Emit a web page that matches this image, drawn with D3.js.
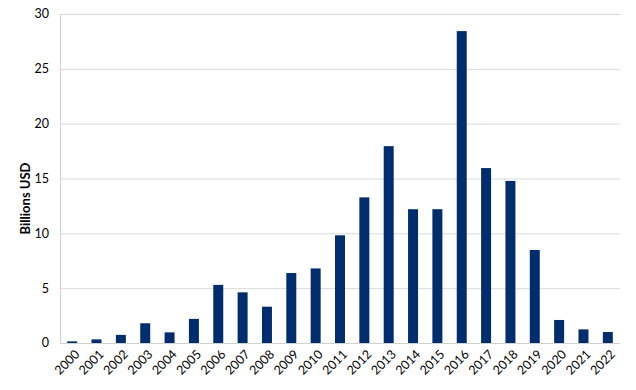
<!DOCTYPE html>
<html>
<head>
<meta charset="utf-8">
<script src="https://cdn.jsdelivr.net/npm/d3@7"></script>
<style>
  body { margin: 0; background: #fff; }
  svg text { font-family: Lato, "Open Sans", sans-serif; fill: #000; }
</style>
</head>
<body>
<div id="chart"></div>
<script>
// Yearly totals, billions USD
const years = ["2000","2001","2002","2003","2004","2005","2006","2007","2008","2009","2010",
  "2011","2012","2013","2014","2015","2016","2017","2018","2019","2020","2021","2022"];
const values = [0.15, 0.33, 0.74, 1.8, 0.97, 2.2, 5.3, 4.62, 3.31, 6.38, 6.8,
  9.82, 13.28, 17.95, 12.2, 12.2, 28.44, 15.95, 14.78, 8.48, 2.1, 1.24, 1.0];
const yTicks = [0, 5, 10, 15, 20, 25, 30];
const yLabel = "Billions USD";

const width = 636, height = 390;
const margin = {top: 14, right: 16, bottom: 47, left: 60};

const svg = d3.select("#chart").append("svg")
  .attr("width", width)
  .attr("height", height);

const x = d3.scaleBand()
  .domain(years)
  .range([margin.left, width - margin.right])
  .paddingInner(0.59)
  .paddingOuter(0.295);

const y = d3.scaleLinear()
  .domain([0, 30])
  .range([height - margin.bottom, margin.top]);

// gridlines
svg.append("g")
  .selectAll("line")
  .data(yTicks.filter(d => d > 0))
  .enter().append("line")
  .attr("x1", margin.left)
  .attr("x2", width - margin.right)
  .attr("y1", d => y(d) + 0.5)
  .attr("y2", d => y(d) + 0.5)
  .attr("stroke", "#d9d9d9")
  .attr("stroke-width", 1);

// bars
svg.append("g")
  .selectAll("rect")
  .data(values)
  .enter().append("rect")
  .attr("x", (d, i) => x(years[i]))
  .attr("width", x.bandwidth())
  .attr("y", d => y(d))
  .attr("height", d => y(0) - y(d))
  .attr("fill", "#002d6e");

// axis lines
svg.append("line")
  .attr("x1", margin.left + 0.5).attr("x2", margin.left + 0.5)
  .attr("y1", margin.top).attr("y2", y(0))
  .attr("stroke", "#d0d0d0");
svg.append("line")
  .attr("x1", margin.left).attr("x2", width - margin.right)
  .attr("y1", y(0) + 0.5).attr("y2", y(0) + 0.5)
  .attr("stroke", "#d0d0d0");

// y tick labels
svg.append("g")
  .selectAll("text")
  .data(yTicks)
  .enter().append("text")
  .attr("x", margin.left - 11)
  .attr("y", d => y(d))
  .attr("dy", "0.35em")
  .attr("text-anchor", "end")
  .style("font-size", "12.5px")
  .text(d => d);

// x tick labels, rotated
svg.append("g")
  .selectAll("text")
  .data(years)
  .enter().append("text")
  .attr("transform", d => "translate(" + (x(d) + x.bandwidth() / 2 + 5) + "," + (y(0) + 9) + ") rotate(-45)")
  .attr("text-anchor", "end")
  .attr("dy", "0.35em")
  .style("font-size", "12.5px")
  .text(d => d);

// y axis title
svg.append("text")
  .attr("transform", "translate(30," + ((margin.top + y(0)) / 2 + 20) + ") rotate(-90)")
  .attr("text-anchor", "middle")
  .style("font-size", "13px")
  .style("font-weight", "bold")
  .text(yLabel);
</script>
</body>
</html>
